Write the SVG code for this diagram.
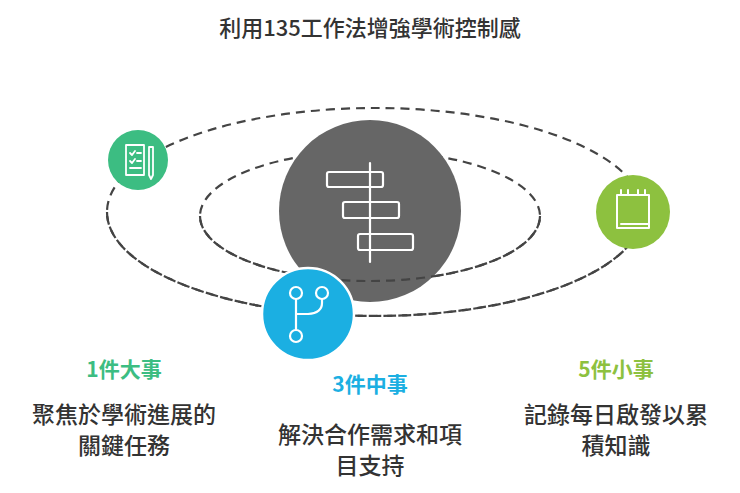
<svg xmlns="http://www.w3.org/2000/svg" width="740" height="493" viewBox="0 0 740 493">
<style>
text{font-family:"Noto Sans CJK TC","Noto Sans",sans-serif;text-anchor:middle}
.t{font-size:23px;fill:#333;font-weight:500}
.h{font-size:21px;font-weight:bold}
.orb{fill:none;stroke:#444;stroke-width:2.2;stroke-dasharray:9 6}
.ic{fill:none;stroke:#fff;stroke-width:2.2;stroke-linecap:round;stroke-linejoin:round}
</style>
<rect width="740" height="493" fill="#fff"/>
<text x="370" y="36" style="font-size:22px;fill:#333;font-weight:500">利用135工作法增強學術控制感</text>
<g id="connectors">
<ellipse class="orb" cx="375" cy="212" rx="268" ry="104"/>
<ellipse class="orb" cx="370" cy="216" rx="170" ry="65"/>
</g>
<g id="center">
<circle cx="370" cy="211" r="91" fill="#666"/>
<line class="ic" x1="370" y1="163" x2="370" y2="262"/>
<rect class="ic" x="327" y="172" width="56" height="15" rx="2"/>
<rect class="ic" x="343" y="202" width="56" height="16" rx="2"/>
<rect class="ic" x="358" y="234" width="55" height="16" rx="2"/>
</g>
<g id="connectors-front">
<path class="orb" d="M200 216A170 65 0 0 0 540 216"/>
<path class="orb" d="M107 212A268 104 0 0 0 643 212"/>
</g>
<g id="node1">
<circle cx="138" cy="160" r="30" fill="#3cbd82"/>
<path class="ic" d="M126 145h18v30h-18z M130 153l2 2 3-4 M137 153h4 M130 161l2 2 3-4 M137 161h4 M130 168h11 M149 147v28l2 4 2-4v-28z" style="stroke-width:1.8"/>
</g>
<g id="node5">
<circle cx="633" cy="212" r="37" fill="#8dc13f"/>
<path class="ic" d="M617 195h32v33h-32z M621 195v-5 M628 195v-5M638 195v-5M645 195v-5 M621 224h28" style="stroke-width:2"/>
</g>
<g id="node3">
<circle cx="308" cy="314" r="46" fill="#1bafe2" stroke="#fff" stroke-width="2.5"/>
<circle class="ic" cx="296" cy="293" r="6"/>
<circle class="ic" cx="322" cy="293" r="6"/>
<circle class="ic" cx="296" cy="336" r="6"/>
<path class="ic" d="M296 299v31 M322 299v4q0 10-14 11h-12"/>
</g>
<g id="labels">
<text class="h" x="124" y="377" fill="#3cbd82">1件大事</text>
<text class="t" x="124" y="423">聚焦於學術進展的</text>
<text class="t" x="124" y="454">關鍵任務</text>
<text class="h" x="370" y="392" fill="#1bafe2">3件中事</text>
<text class="t" x="370" y="443">解決合作需求和項</text>
<text class="t" x="370" y="474">目支持</text>
<text class="h" x="616" y="377" fill="#8dc13f">5件小事</text>
<text class="t" x="616" y="423">記錄每日啟發以累</text>
<text class="t" x="616" y="454">積知識</text>
</g>
</svg>
